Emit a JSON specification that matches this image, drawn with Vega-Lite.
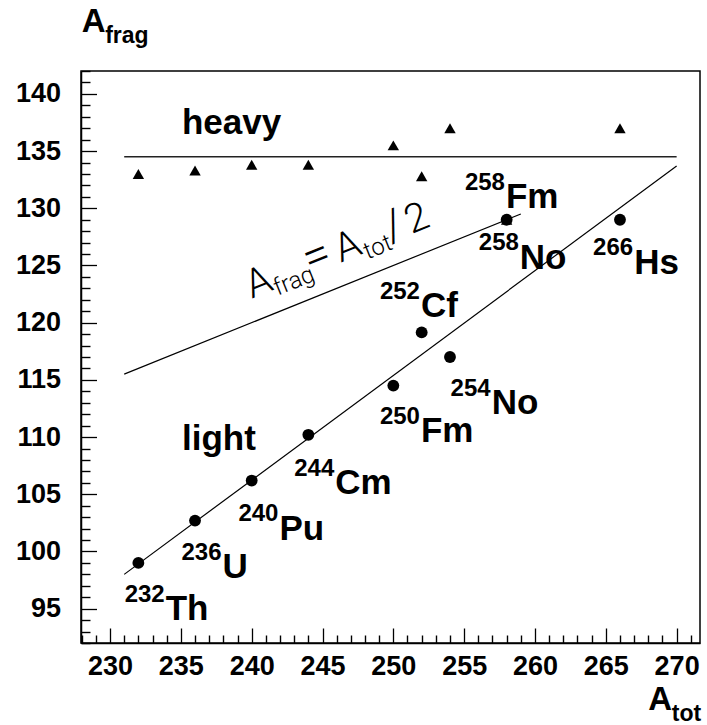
{
  "$schema": "https://vega.github.io/schema/vega-lite/v6.json",
  "width": 619,
  "height": 572,
  "autosize": {"type": "none"},
  "padding": {"left": 81, "top": 71, "right": 7, "bottom": 82},
  "background": "white",
  "view": {"stroke": "black", "strokeWidth": 1.5, "fill": null},
  "config": {
    "axis": {
      "grid": false,
      "title": null,
      "domainColor": "black",
      "domainWidth": 1.5,
      "tickColor": "black",
      "tickWidth": 1.3,
      "labelFont": "Liberation Sans",
      "labelFontWeight": "bold",
      "labelFontSize": 27,
      "labelColor": "black",
      "labelFlush": false,
      "labelOverlap": false
    }
  },
  "resolve": {"axis": {"x": "independent", "y": "independent"}},
  "datasets": {
    "points": [
      {"A": 232, "Af": 99.0, "frag": "light"},
      {"A": 236, "Af": 102.7, "frag": "light"},
      {"A": 240, "Af": 106.2, "frag": "light"},
      {"A": 244, "Af": 110.2, "frag": "light"},
      {"A": 250, "Af": 114.5, "frag": "light"},
      {"A": 252, "Af": 119.15, "frag": "light"},
      {"A": 254, "Af": 117.0, "frag": "light"},
      {"A": 258, "Af": 129.0, "frag": "light"},
      {"A": 266, "Af": 129.0, "frag": "light"},
      {"A": 232, "Af": 133.0, "frag": "heavy"},
      {"A": 236, "Af": 133.3, "frag": "heavy"},
      {"A": 240, "Af": 133.8, "frag": "heavy"},
      {"A": 244, "Af": 133.8, "frag": "heavy"},
      {"A": 250, "Af": 135.5, "frag": "heavy"},
      {"A": 252, "Af": 132.8, "frag": "heavy"},
      {"A": 254, "Af": 137.0, "frag": "heavy"},
      {"A": 258, "Af": 129.0, "frag": "heavy"},
      {"A": 266, "Af": 137.0, "frag": "heavy"}
    ],
    "lines": [
      {"line": "heavy", "A": 231, "Af": 134.5},
      {"line": "heavy", "A": 270, "Af": 134.5},
      {"line": "light", "A": 231, "Af": 98.0},
      {"line": "light", "A": 270, "Af": 133.7},
      {"line": "half", "A": 231, "Af": 115.5},
      {"line": "half", "A": 259, "Af": 129.5}
    ],
    "nuclides": [
      {"A": 233.86, "Af": 93.98, "mass": "232", "sym": "Th"},
      {"A": 237.87, "Af": 97.65, "mass": "236", "sym": "U"},
      {"A": 241.89, "Af": 101.03, "mass": "240", "sym": "Pu"},
      {"A": 245.83, "Af": 104.99, "mass": "244", "sym": "Cm"},
      {"A": 251.88, "Af": 109.56, "mass": "250", "sym": "Fm"},
      {"A": 251.88, "Af": 120.49, "mass": "252", "sym": "Cf"},
      {"A": 256.87, "Af": 111.98, "mass": "254", "sym": "No"},
      {"A": 257.88, "Af": 130.02, "mass": "258", "sym": "Fm"},
      {"A": 258.86, "Af": 124.72, "mass": "258", "sym": "No"},
      {"A": 266.93, "Af": 124.28, "mass": "266", "sym": "Hs"}
    ],
    "words": [
      {"A": 235.08, "Af": 136.5, "t": "heavy"},
      {"A": 235.08, "Af": 108.9, "t": "light"}
    ],
    "titles": [
      {"A": 228.0, "Af": 145.38, "main": "A", "sub": "frag"},
      {"A": 268.0, "Af": 86.1, "main": "A", "sub": "tot"}
    ],
    "formula": [
      {"A": 240.0, "Af": 122.1, "a1": "A", "f": "frag", "eq": "=", "a2": "A", "tot": "tot", "sl": "/", "two": "2"}
    ]
  },
  "encoding": {
    "x": {"field": "A", "type": "quantitative", "scale": {"domain": [227.95, 271.65], "nice": false, "zero": false}, "axis": null},
    "y": {"field": "Af", "type": "quantitative", "scale": {"domain": [92, 142], "nice": false, "zero": false}, "axis": null}
  },
  "layer": [
    {
      "data": {"name": "lines"},
      "transform": [{"filter": "datum.line === 'heavy'"}],
      "mark": {"type": "line", "color": "#222", "strokeWidth": 1.6},
      "encoding": {
        "detail": {"field": "line"},
        "x": {
          "field": "A", "type": "quantitative",
          "scale": {"domain": [227.95, 271.65], "nice": false, "zero": false},
          "axis": {
            "orient": "bottom",
            "values": [230, 235, 240, 245, 250, 255, 260, 265, 270],
            "tickSize": -15,
            "labelPadding": 25
          }
        },
        "y": {
          "field": "Af", "type": "quantitative",
          "scale": {"domain": [92, 142], "nice": false, "zero": false},
          "axis": {
            "orient": "left",
            "values": [95, 100, 105, 110, 115, 120, 125, 130, 135, 140],
            "tickSize": -15.5,
            "labelPadding": 36
          }
        }
      }
    },
    {
      "data": {"name": "lines"},
      "transform": [{"filter": "datum.line !== 'heavy'"}],
      "mark": {"type": "line", "color": "black", "strokeWidth": 1.2},
      "encoding": {
        "detail": {"field": "line"},
        "x": {
          "field": "A", "type": "quantitative",
          "scale": {"domain": [227.95, 271.65], "nice": false, "zero": false},
          "axis": {
            "orient": "bottom",
            "values": [228,229,231,232,233,234,236,237,238,239,241,242,243,244,246,247,248,249,251,252,253,254,256,257,258,259,261,262,263,264,266,267,268,269,271],
            "tickSize": -8,
            "tickWidth": 1.4,
            "labels": false,
            "domain": false
          }
        },
        "y": {
          "field": "Af", "type": "quantitative",
          "scale": {"domain": [92, 142], "nice": false, "zero": false},
          "axis": {
            "orient": "left",
            "values": [92,93,94,96,97,98,99,101,102,103,104,106,107,108,109,111,112,113,114,116,117,118,119,121,122,123,124,126,127,128,129,131,132,133,134,136,137,138,139,141,142],
            "tickSize": -9,
            "tickWidth": 1.4,
            "labels": false,
            "domain": false
          }
        }
      }
    },
    {
      "data": {"name": "points"},
      "transform": [{"filter": "datum.frag === 'heavy'"}],
      "mark": {"type": "point", "shape": "triangle-up", "filled": true, "color": "black", "opacity": 1, "size": 130}
    },
    {
      "data": {"name": "points"},
      "transform": [{"filter": "datum.frag === 'light'"}],
      "mark": {"type": "point", "shape": "circle", "filled": true, "color": "black", "opacity": 1, "size": 140}
    },
    {
      "data": {"name": "nuclides"},
      "mark": {"type": "text", "align": "right", "baseline": "alphabetic", "font": "Liberation Sans", "fontWeight": "bold", "fontSize": 24, "dy": -18.5, "color": "black"},
      "encoding": {"text": {"field": "mass"}}
    },
    {
      "data": {"name": "nuclides"},
      "mark": {"type": "text", "align": "left", "baseline": "alphabetic", "font": "Liberation Sans", "fontWeight": "bold", "fontSize": 35, "dx": 1, "color": "black"},
      "encoding": {"text": {"field": "sym"}}
    },
    {
      "data": {"name": "words"},
      "mark": {"type": "text", "align": "left", "baseline": "alphabetic", "font": "Liberation Sans", "fontWeight": "bold", "fontSize": 35, "color": "black"},
      "encoding": {"text": {"field": "t"}}
    },
    {
      "data": {"name": "titles"},
      "mark": {"type": "text", "align": "left", "baseline": "alphabetic", "font": "Liberation Sans", "fontWeight": "bold", "fontSize": 33, "color": "black"},
      "encoding": {"text": {"field": "main"}}
    },
    {
      "data": {"name": "titles"},
      "mark": {"type": "text", "align": "left", "baseline": "alphabetic", "font": "Liberation Sans", "fontWeight": "bold", "fontSize": 23, "dx": 23.5, "dy": 11, "color": "black"},
      "encoding": {"text": {"field": "sub"}}
    },
    {
      "data": {"name": "formula"},
      "mark": {"type": "text", "align": "left", "baseline": "alphabetic", "font": "Roboto", "fontWeight": 300, "fontSize": 40, "angle": -22, "color": "black"},
      "encoding": {"text": {"field": "a1"}}
    },
    {
      "data": {"name": "formula"},
      "mark": {"type": "text", "align": "left", "baseline": "alphabetic", "font": "Roboto", "fontWeight": 300, "fontSize": 24, "angle": -22, "dx": 25, "dy": 7, "color": "black"},
      "encoding": {"text": {"field": "f"}}
    },
    {
      "data": {"name": "formula"},
      "mark": {"type": "text", "align": "left", "baseline": "alphabetic", "font": "Roboto", "fontWeight": 300, "fontSize": 48, "angle": -22, "dx": 63, "color": "black"},
      "encoding": {"text": {"field": "eq"}}
    },
    {
      "data": {"name": "formula"},
      "mark": {"type": "text", "align": "left", "baseline": "alphabetic", "font": "Roboto", "fontWeight": 300, "fontSize": 40, "angle": -22, "dx": 96, "color": "black"},
      "encoding": {"text": {"field": "a2"}}
    },
    {
      "data": {"name": "formula"},
      "mark": {"type": "text", "align": "left", "baseline": "alphabetic", "font": "Roboto", "fontWeight": 300, "fontSize": 24, "angle": -22, "dx": 122, "dy": 7, "color": "black"},
      "encoding": {"text": {"field": "tot"}}
    },
    {
      "data": {"name": "formula"},
      "mark": {"type": "text", "align": "left", "baseline": "alphabetic", "font": "Roboto", "fontWeight": 300, "fontSize": 44, "angle": -22, "dx": 150, "color": "black"},
      "encoding": {"text": {"field": "sl"}}
    },
    {
      "data": {"name": "formula"},
      "mark": {"type": "text", "align": "left", "baseline": "alphabetic", "font": "Roboto", "fontWeight": 300, "fontSize": 40, "angle": -22, "dx": 172, "color": "black"},
      "encoding": {"text": {"field": "two"}}
    }
  ]
}
